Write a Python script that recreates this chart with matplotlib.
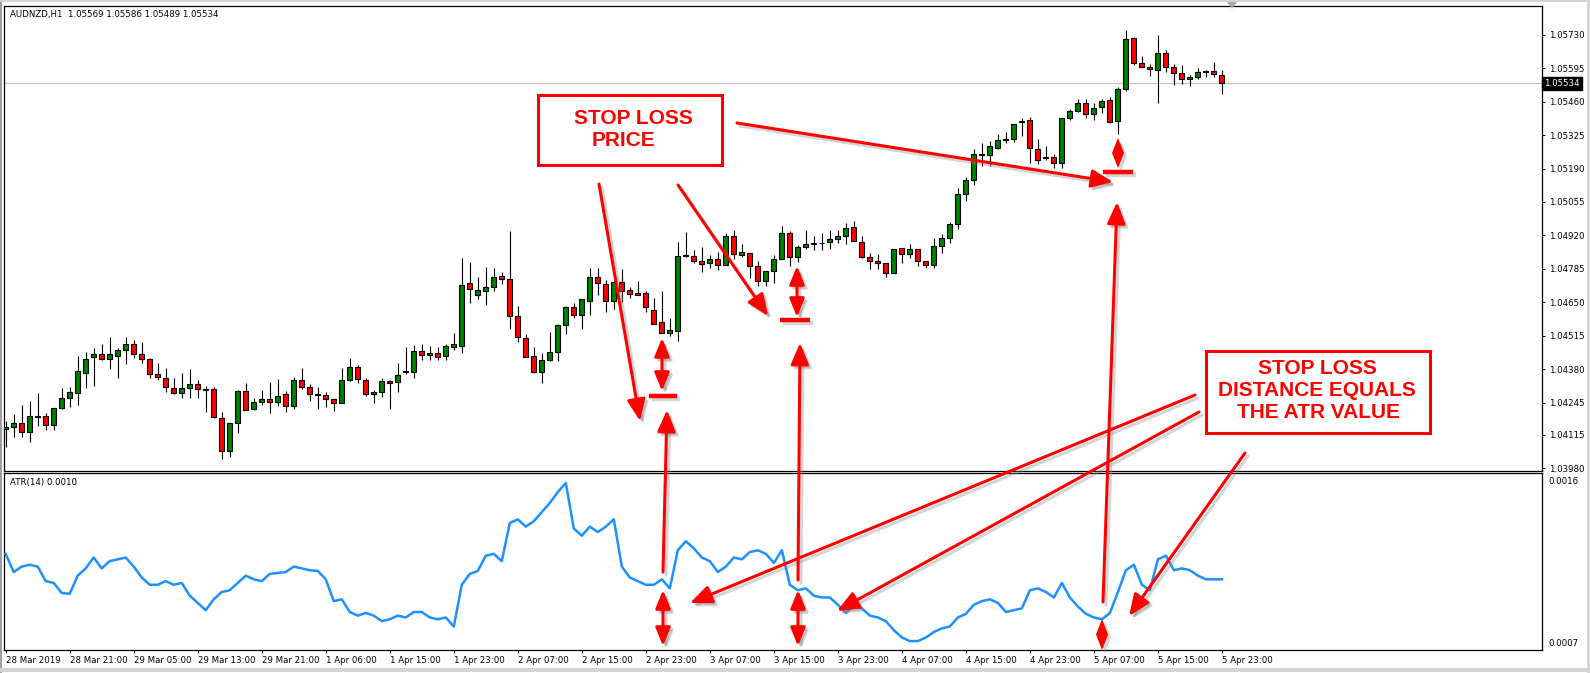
import matplotlib
matplotlib.use("Agg")
import matplotlib.pyplot as plt
from matplotlib.patches import Rectangle, FancyArrowPatch, Polygon
import matplotlib.transforms as mtransforms

# ---------------- data ----------------
header_text = "AUDNZD,H1  1.05569 1.05586 1.05489 1.05534"
atr_title = "ATR(14) 0.0010"
last_price = 1.05534

x_labels = ["28 Mar 2019", "28 Mar 21:00", "29 Mar 05:00", "29 Mar 13:00", "29 Mar 21:00",
            "1 Apr 06:00", "1 Apr 15:00", "1 Apr 23:00", "2 Apr 07:00", "2 Apr 15:00",
            "2 Apr 23:00", "3 Apr 07:00", "3 Apr 15:00", "3 Apr 23:00", "4 Apr 07:00",
            "4 Apr 15:00", "4 Apr 23:00", "5 Apr 07:00", "5 Apr 15:00", "5 Apr 23:00"]
label_every = 8

price_ticks = [1.05730, 1.05595, 1.05460, 1.05325, 1.05190, 1.05055, 1.04920,
               1.04785, 1.04650, 1.04515, 1.04380, 1.04245, 1.04115, 1.03980]
atr_scale_labels = ["0.0016", "0.0007"]

opens = [1.04139, 1.04147, 1.04163, 1.04127, 1.04191, 1.04191, 1.04155, 1.04224, 1.04264, 1.04284,
         1.04365, 1.04429, 1.04441, 1.04421, 1.04433, 1.04457, 1.04482, 1.04441, 1.04421, 1.04361,
         1.04344, 1.04304, 1.04284, 1.04304, 1.04320, 1.04300, 1.04300, 1.04183, 1.04050, 1.04163,
         1.04292, 1.04219, 1.04248, 1.04260, 1.04248, 1.04280, 1.04232, 1.04336, 1.04308, 1.04280,
         1.04276, 1.04260, 1.04244, 1.04336, 1.04389, 1.04336, 1.04280, 1.04288, 1.04332, 1.04328,
         1.04369, 1.04369, 1.04453, 1.04437, 1.04445, 1.04433, 1.04469, 1.04474, 1.04728, 1.04680,
         1.04696, 1.04712, 1.04756, 1.04744, 1.04595, 1.04506, 1.04433, 1.04369, 1.04417, 1.04449,
         1.04558, 1.04631, 1.04599, 1.04655, 1.04752, 1.04724, 1.04655, 1.04732, 1.04700, 1.04688,
         1.04688, 1.04619, 1.04570, 1.04526, 1.04534, 1.04837, 1.04837, 1.04817, 1.04809, 1.04825,
         1.04801, 1.04917, 1.04841, 1.04849, 1.04797, 1.04736, 1.04776, 1.04825, 1.04930, 1.04833,
         1.04873, 1.04885, 1.04889, 1.04893, 1.04905, 1.04917, 1.04954, 1.04893, 1.04833, 1.04817,
         1.04809, 1.04768, 1.04869, 1.04845, 1.04865, 1.04817, 1.04801, 1.04877, 1.04909, 1.04966,
         1.05087, 1.05144, 1.05245, 1.05245, 1.05273, 1.05305, 1.05309, 1.05378, 1.05386, 1.05269,
         1.05236, 1.05236, 1.05212, 1.05394, 1.05422, 1.05454, 1.05410, 1.05438, 1.05466, 1.05382,
         1.05511, 1.05717, 1.05616, 1.05600, 1.05587, 1.05656, 1.05600, 1.05575, 1.05551, 1.05559,
         1.05579, 1.05583, 1.05569]
highs = [1.04171, 1.04199, 1.04236, 1.04252, 1.04284, 1.04203, 1.04224, 1.04304, 1.04308, 1.04433,
         1.04449, 1.04465, 1.04482, 1.04510, 1.04465, 1.04510, 1.04498, 1.04490, 1.04425, 1.04405,
         1.04385, 1.04344, 1.04365, 1.04381, 1.04336, 1.04312, 1.04308, 1.04207, 1.04163, 1.04296,
         1.04324, 1.04264, 1.04296, 1.04328, 1.04340, 1.04292, 1.04349, 1.04385, 1.04320, 1.04308,
         1.04288, 1.04260, 1.04385, 1.04425, 1.04397, 1.04344, 1.04296, 1.04344, 1.04336, 1.04405,
         1.04469, 1.04478, 1.04482, 1.04474, 1.04469, 1.04482, 1.04526, 1.04829, 1.04813, 1.04752,
         1.04792, 1.04788, 1.04772, 1.04938, 1.04635, 1.04522, 1.04469, 1.04445, 1.04530, 1.04562,
         1.04635, 1.04647, 1.04663, 1.04788, 1.04788, 1.04740, 1.04740, 1.04784, 1.04712, 1.04736,
         1.04696, 1.04667, 1.04696, 1.04587, 1.04893, 1.04934, 1.04861, 1.04873, 1.04841, 1.04853,
         1.04930, 1.04942, 1.04885, 1.04849, 1.04817, 1.04776, 1.04841, 1.04958, 1.04938, 1.04881,
         1.04942, 1.04917, 1.04930, 1.04942, 1.04942, 1.04970, 1.04978, 1.04917, 1.04849, 1.04845,
         1.04809, 1.04865, 1.04869, 1.04885, 1.04865, 1.04817, 1.04909, 1.04926, 1.04974, 1.05111,
         1.05156, 1.05269, 1.05293, 1.05301, 1.05329, 1.05337, 1.05370, 1.05394, 1.05398, 1.05309,
         1.05281, 1.05249, 1.05394, 1.05430, 1.05470, 1.05470, 1.05454, 1.05470, 1.05478, 1.05519,
         1.05749, 1.05721, 1.05644, 1.05612, 1.05729, 1.05668, 1.05612, 1.05608, 1.05567, 1.05595,
         1.05587, 1.05620, 1.05586]
lows = [1.04066, 1.04107, 1.04107, 1.04086, 1.04151, 1.04135, 1.04135, 1.04220, 1.04228, 1.04236,
        1.04304, 1.04312, 1.04417, 1.04381, 1.04344, 1.04401, 1.04425, 1.04405, 1.04344, 1.04336,
        1.04288, 1.04280, 1.04264, 1.04264, 1.04264, 1.04207, 1.04183, 1.04017, 1.04025, 1.04123,
        1.04215, 1.04215, 1.04236, 1.04203, 1.04232, 1.04207, 1.04219, 1.04300, 1.04252, 1.04219,
        1.04228, 1.04211, 1.04244, 1.04332, 1.04324, 1.04272, 1.04244, 1.04268, 1.04219, 1.04288,
        1.04361, 1.04344, 1.04417, 1.04417, 1.04417, 1.04417, 1.04457, 1.04445, 1.04647, 1.04663,
        1.04639, 1.04696, 1.04724, 1.04542, 1.04490, 1.04429, 1.04365, 1.04324, 1.04413, 1.04413,
        1.04522, 1.04587, 1.04542, 1.04599, 1.04680, 1.04611, 1.04623, 1.04651, 1.04667, 1.04680,
        1.04611, 1.04562, 1.04526, 1.04514, 1.04494, 1.04833, 1.04809, 1.04772, 1.04788, 1.04780,
        1.04801, 1.04825, 1.04833, 1.04748, 1.04716, 1.04716, 1.04728, 1.04825, 1.04797, 1.04813,
        1.04865, 1.04861, 1.04861, 1.04865, 1.04889, 1.04885, 1.04897, 1.04829, 1.04784, 1.04784,
        1.04752, 1.04768, 1.04809, 1.04829, 1.04797, 1.04788, 1.04788, 1.04849, 1.04889, 1.04946,
        1.05059, 1.05123, 1.05200, 1.05200, 1.05269, 1.05293, 1.05297, 1.05321, 1.05212, 1.05208,
        1.05224, 1.05192, 1.05192, 1.05386, 1.05418, 1.05394, 1.05386, 1.05414, 1.05374, 1.05329,
        1.05503, 1.05608, 1.05600, 1.05563, 1.05454, 1.05579, 1.05527, 1.05531, 1.05523, 1.05551,
        1.05559, 1.05559, 1.05489]
closes = [1.04147, 1.04163, 1.04127, 1.04191, 1.04187, 1.04155, 1.04224, 1.04264, 1.04288, 1.04373,
          1.04421, 1.04441, 1.04421, 1.04441, 1.04457, 1.04482, 1.04441, 1.04421, 1.04361, 1.04349,
          1.04308, 1.04284, 1.04304, 1.04320, 1.04300, 1.04296, 1.04187, 1.04050, 1.04163, 1.04292,
          1.04215, 1.04248, 1.04260, 1.04248, 1.04272, 1.04232, 1.04336, 1.04308, 1.04280, 1.04276,
          1.04260, 1.04244, 1.04336, 1.04389, 1.04340, 1.04280, 1.04288, 1.04332, 1.04324, 1.04357,
          1.04373, 1.04453, 1.04437, 1.04445, 1.04429, 1.04474, 1.04482, 1.04720, 1.04704, 1.04700,
          1.04712, 1.04752, 1.04744, 1.04595, 1.04510, 1.04429, 1.04369, 1.04417, 1.04449, 1.04558,
          1.04631, 1.04599, 1.04663, 1.04752, 1.04728, 1.04655, 1.04732, 1.04696, 1.04684, 1.04680,
          1.04631, 1.04562, 1.04526, 1.04538, 1.04837, 1.04841, 1.04817, 1.04805, 1.04825, 1.04801,
          1.04917, 1.04845, 1.04853, 1.04797, 1.04736, 1.04776, 1.04825, 1.04930, 1.04833, 1.04873,
          1.04885, 1.04889, 1.04889, 1.04905, 1.04917, 1.04950, 1.04897, 1.04833, 1.04817, 1.04809,
          1.04768, 1.04865, 1.04845, 1.04865, 1.04817, 1.04801, 1.04877, 1.04909, 1.04966, 1.05087,
          1.05144, 1.05249, 1.05249, 1.05281, 1.05305, 1.05309, 1.05370, 1.05382, 1.05273, 1.05224,
          1.05232, 1.05212, 1.05394, 1.05422, 1.05454, 1.05410, 1.05434, 1.05462, 1.05378, 1.05511,
          1.05713, 1.05616, 1.05600, 1.05592, 1.05656, 1.05600, 1.05575, 1.05551, 1.05559, 1.05579,
          1.05583, 1.05571, 1.05534]

atr_values = [0.00117, 0.00107, 0.00110, 0.00111, 0.00110, 0.00102, 0.00101, 0.000955, 0.00095, 0.00105,
              0.00109, 0.00115, 0.00109, 0.00113, 0.00114, 0.00115, 0.00110, 0.00104, 0.00100, 0.00100,
              0.00102, 0.00100, 0.00101, 0.00094, 0.00090, 0.00086, 0.00092, 0.00096, 0.00097, 0.00101,
              0.00105, 0.00103, 0.00102, 0.00106, 0.001065, 0.00107, 0.00110, 0.00109, 0.00108, 0.001076,
              0.00103, 0.00091, 0.00092, 0.00085, 0.00083, 0.000845, 0.00083, 0.00080, 0.00081, 0.00083,
              0.00082, 0.00085, 0.00085, 0.00082, 0.00081, 0.00082, 0.00077, 0.00100, 0.00106, 0.001076,
              0.00116, 0.00117, 0.00113, 0.00134, 0.00136, 0.00132, 0.00135, 0.00140, 0.00145, 0.00151,
              0.00156, 0.00131, 0.00127, 0.00132, 0.00129, 0.00132, 0.00136, 0.00110, 0.00104, 0.00102,
              0.00100, 0.00100, 0.00103, 0.00098, 0.00119, 0.00124, 0.00120, 0.00115, 0.00113, 0.00107,
              0.00110, 0.00115, 0.00114, 0.00118, 0.00119, 0.00117, 0.00112, 0.00119, 0.00100, 0.00097,
              0.00098, 0.00094, 0.00093, 0.00093, 0.00089, 0.000845, 0.00088, 0.00087, 0.00083, 0.00082,
              0.00080, 0.00075, 0.00071, 0.00069, 0.00069, 0.00071, 0.00074, 0.00076, 0.00077, 0.00082,
              0.00084, 0.00089, 0.00091, 0.00092, 0.00090, 0.00085, 0.00086, 0.00087, 0.00097, 0.00098,
              0.00096, 0.00093, 0.00101, 0.00093, 0.00088, 0.00084, 0.00082, 0.00081, 0.000845, 0.00096,
              0.00108, 0.00111, 0.00100, 0.00097, 0.00114, 0.00116, 0.00108, 0.00109, 0.00108, 0.00105,
              0.00103, 0.00103, 0.00103]

# ---------------- figure ----------------
W, H = 1590, 673
fig = plt.figure(figsize=(W / 100, H / 100), dpi=100)
fig.patch.set_facecolor("white")

def fx(px):
    return px / W

def fy(py):
    return 1 - py / H

main_l, main_r = 4, 1542
main_t, main_b = 6, 471
atr_t, atr_b = 473, 650

ax = fig.add_axes([fx(main_l), fy(main_b), fx(main_r - main_l), (main_b - main_t) / H])
ax2 = fig.add_axes([fx(main_l), fy(atr_b), fx(main_r - main_l), (atr_b - atr_t) / H], sharex=ax)

n = len(opens)
xs = list(range(n))
ax.set_xlim(-0.21, 192.0)
ax.set_ylim(1.03969, 1.05846)
ax2.set_ylim(0.000641, 0.001615)

GREEN = "#008000"
RED = "#ff0000"
body_w = 0.62
for i in xs:
    o, h, l, c = opens[i], highs[i], lows[i], closes[i]
    ax.vlines(i, l, h, color="black", lw=0.8, zorder=2)
    bottom = min(o, c)
    height = abs(c - o)
    col = GREEN if c > o else RED
    if height < 1e-6:
        ax.hlines(o, i - body_w / 2, i + body_w / 2, color="black", lw=0.9, zorder=3)
    else:
        ax.add_patch(Rectangle((i - body_w / 2, bottom), body_w, height,
                               facecolor=col, edgecolor="black", lw=0.8, zorder=3))

ax.axhline(last_price, color="#c0c0c0", lw=0.8, zorder=1)

ax2.plot(xs, atr_values, color="#1e90ff", lw=1.8, zorder=3, solid_joinstyle="round")

for a in (ax, ax2):
    for s in a.spines.values():
        s.set_color("black")
        s.set_linewidth(0.9)
    a.set_facecolor("white")

ax.yaxis.tick_right()
ax.set_yticks(price_ticks)
ax.set_yticklabels([f"{v:.5f}" for v in price_ticks])
ax.tick_params(axis="y", direction="out", length=2.5, width=0.7, pad=2.5, labelsize=6.2, colors="black")
ax.tick_params(axis="x", which="both", bottom=False, labelbottom=False, top=False)

ax2.set_yticks([])
tick_pos = [k * label_every for k in range(len(x_labels))]
ax2.set_xticks(tick_pos)
ax2.set_xticklabels(x_labels, ha="left")
ax2.tick_params(axis="x", direction="out", length=2.5, width=0.7, pad=2.0, labelsize=6.2)

# current price tag
trans = mtransforms.blended_transform_factory(ax.transAxes, ax.transData)
ax.text(1.0015, last_price, f"{last_price:.5f}", transform=trans, ha="left", va="center",
        fontsize=6.2, color="white", zorder=6,
        bbox=dict(boxstyle="square,pad=0.25", facecolor="black", edgecolor="black"))

ax.text(6 / (main_r - main_l), 1 - 8 / (main_b - main_t), header_text, transform=ax.transAxes,
        ha="left", va="center", fontsize=6.2, color="black", zorder=6)
ax2.text(6 / (main_r - main_l), (atr_b - 483) / (atr_b - atr_t), atr_title, transform=ax2.transAxes,
         ha="left", va="center", fontsize=6.2, color="black", zorder=6)
ax2.text(1.004, (atr_b - 481) / (atr_b - atr_t), atr_scale_labels[0], transform=ax2.transAxes,
         ha="left", va="center", fontsize=6.2, color="black")
ax2.text(1.004, (atr_b - 643) / (atr_b - atr_t), atr_scale_labels[1], transform=ax2.transAxes,
         ha="left", va="center", fontsize=6.2, color="black")

# ---------------- overlay annotations (pixel space) ----------------
ov = fig.add_axes([0, 0, 1, 1], zorder=10)
ov.set_xlim(0, W)
ov.set_ylim(H, 0)
ov.axis("off")
ov.patch.set_alpha(0)

# frame
ov.plot([1, 1], [0, H], color="#a0a0a0", lw=1.5)
ov.plot([W - 2, W - 2], [0, H], color="#d4d4d4", lw=2)
ov.plot([0, W], [H - 3, H - 3], color="#d4d4d4", lw=3)
ov.plot([0, W], [1, 1], color="#d4d4d4", lw=1.5)
ov.add_patch(Polygon([[1227, 2], [1237, 2], [1232, 9]], closed=True, facecolor="#a8a8a8", edgecolor="none"))

SHADOW = "#888888"

def arrow(p0, p1, style="-|>", hl=13, hw=5.5, lw=2.2):
    st = f"{style},head_length={hl},head_width={hw}"
    sh = FancyArrowPatch((p0[0] + 3, p0[1] + 3), (p1[0] + 3, p1[1] + 3), arrowstyle=st,
                         mutation_scale=1, color=SHADOW, alpha=0.35, lw=lw,
                         shrinkA=0, shrinkB=0, zorder=4)
    ov.add_patch(sh)
    a = FancyArrowPatch(p0, p1, arrowstyle=st, mutation_scale=1, color=RED, lw=lw,
                        shrinkA=0, shrinkB=0, zorder=5)
    ov.add_patch(a)

def diamond(x, y0, y1, half_w=6):
    ym = (y0 + y1) / 2
    pts = [[x, y0], [x + half_w, ym], [x, y1], [x - half_w, ym]]
    ov.add_patch(Polygon([[p[0] + 3, p[1] + 3] for p in pts], closed=True,
                         facecolor=SHADOW, alpha=0.35, edgecolor="none", zorder=4))
    ov.add_patch(Polygon(pts, closed=True, facecolor=RED, edgecolor="none", zorder=5))

def bar(x0, x1, y):
    ov.plot([x0 + 3, x1 + 3], [y + 3, y + 3], color=SHADOW, alpha=0.35, lw=3.2,
            solid_capstyle="butt", zorder=4)
    ov.plot([x0, x1], [y, y], color=RED, lw=3.2, solid_capstyle="butt", zorder=5)

# boxes
ov.add_patch(Rectangle((538, 95), 184, 70, fill=False, edgecolor=RED, lw=2.2, zorder=5))
ov.add_patch(Rectangle((1206, 351), 224, 82, fill=False, edgecolor=RED, lw=2.2, zorder=5))
tkw = dict(color=RED, fontsize=15, fontweight="bold", family="Liberation Sans",
           ha="center", va="center", zorder=6)
ov.text(633, 118, "STOP LOSS", **tkw)
ov.text(623, 141, "PRICE", **tkw)
ov.text(1317, 368, "STOP LOSS", **tkw)
ov.text(1317, 391, "DISTANCE EQUALS", **tkw)
ov.text(1318, 413, "THE ATR VALUE", **tkw)

# arrows from "STOP LOSS PRICE"
arrow((599, 184), (640, 421))
arrow((678, 185), (768, 316))
arrow((737, 123), (1113, 182))

# stop level bars
bar(649, 677, 396)
bar(780, 810, 320)
bar(1103, 1133, 172)

# distance double arrows on price panel
arrow((662, 338), (662, 391), style="<|-|>", hl=11, hw=4.5)
arrow((797, 266), (797, 317), style="<|-|>", hl=11, hw=4.5)
diamond(1118, 138, 168)

# long arrows from ATR to price
arrow((663, 572), (667, 410))
arrow((798, 580), (800, 343))
arrow((1103, 602), (1117, 202))

# double arrows in ATR panel
arrow((663, 590), (663, 646), style="<|-|>", hl=11, hw=4.5)
arrow((798, 590), (798, 646), style="<|-|>", hl=11, hw=4.5)
diamond(1102, 619, 650)

# arrows from ATR box
arrow((1195, 395), (690, 603))
arrow((1199, 412), (837, 611))
arrow((1245, 453), (1129, 616))

fig.savefig("out.png", dpi=100, facecolor="white")
